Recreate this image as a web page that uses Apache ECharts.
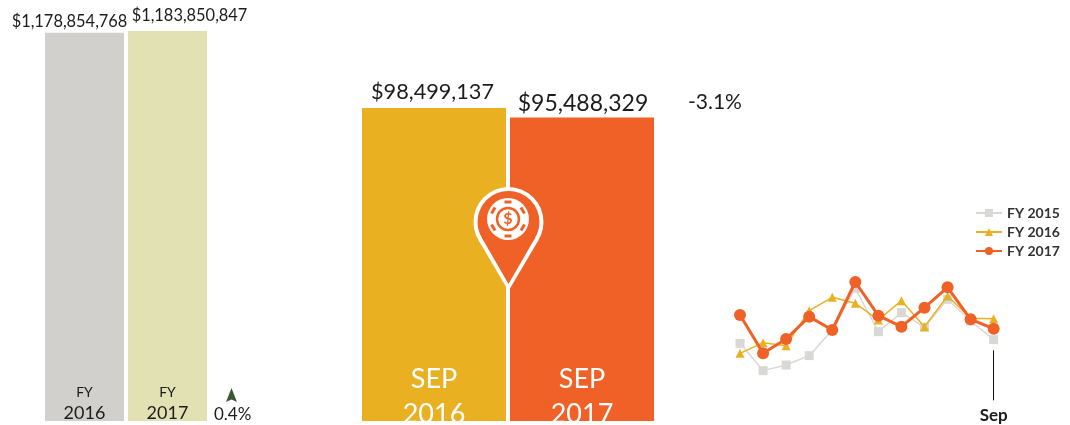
<!DOCTYPE html>
<html>
<head>
<meta charset="utf-8">
<title>Monthly revenue</title>
<style>
html,body{margin:0;padding:0;background:#fff}
#chart{width:1070px;height:425px}
</style>
<script src="https://cdn.jsdelivr.net/npm/echarts@6/dist/echarts.min.js"></script>
</head>
<body>
<div id="chart"></div>
<script>
// full year totals
var fyCategories = ['FY\n2016', 'FY\n2017'];
var fyValues = [1178854768, 1183850847];
var fyChange = '0.4%';

// September totals
var sepCategories = ['SEP\n2016', 'SEP\n2017'];
var sepValues = [98499137, 95488329];
var sepChange = '-3.1%';

// monthly trend, in millions
var months = ['Oct', 'Nov', 'Dec', 'Jan', 'Feb', 'Mar', 'Apr', 'May', 'Jun', 'Jul', 'Aug', 'Sep'];
var fy2015 = [91.1, 82.9, 84.6, 87.4, 95.1, 107.6, 94.6, 100.3, 95.9, 104.3, 97.8, 92.2];
var fy2016 = [88.1, 91.3, 90.4, 100.9, 104.9, 103.1, 98.1, 103.9, 96.1, 105.3, 98.6, 98.5];
var fy2017 = [99.6, 88.1, 92.4, 99.1, 95.1, 109.5, 99.4, 96.1, 101.8, 107.9, 98.3, 95.5];

var FONT = 'Lato, "Open Sans", sans-serif';
var GREY = '#D1D0CC', OLIVE = '#E2E1B4', AMBER = '#E9B121', ORANGE = '#EF6126', INK = '#1c1c1c';

function money(v) {
    return '$' + v.toLocaleString('en-US');
}

function barItems(values, colors, offsets, sizes) {
    return values.map(function (v, i) {
        return {
            value: v,
            itemStyle: { color: colors[i] },
            label: {
                show: true,
                position: 'top',
                distance: 0,
                offset: offsets[i],
                formatter: money(v),
                fontFamily: FONT,
                fontSize: sizes[i],
                color: INK
            }
        };
    });
}

function isSep(index) {
    return index === months.length - 1;
}

function lineSeries(name, data, color, symbol, symbolSize, width, z) {
    return {
        name: name,
        type: 'line',
        xAxisIndex: 2,
        yAxisIndex: 2,
        data: data,
        symbol: symbol,
        symbolSize: symbolSize,
        z: z,
        lineStyle: { color: color, width: width },
        itemStyle: { color: color }
    };
}

// chip on the pin: notches around the rim
function chipNotches(cx, cy) {
    var list = [];
    for (var i = 0; i < 6; i++) {
        var a = i * Math.PI / 3;
        list.push({
            type: 'rect',
            x: cx + Math.sin(a) * 17,
            y: cy - Math.cos(a) * 17,
            rotation: -a,
            shape: { x: -3.5, y: -1.5, width: 7, height: 3 },
            style: { fill: ORANGE },
            z: 103
        });
    }
    return list;
}

var chart = echarts.init(document.getElementById('chart'));

var option = {
    animation: false,
    backgroundColor: '#fff',
    textStyle: { fontFamily: FONT },
    grid: [
        { left: 43, top: 31, width: 166, height: 390, outerBoundsMode: 'none' },
        { left: 360, top: 108, width: 296, height: 313, outerBoundsMode: 'none' },
        { left: 728.5, top: 267, width: 276.7, height: 133.3, outerBoundsMode: 'none' }
    ],
    legend: {
        data: ['FY 2015', 'FY 2016', 'FY 2017'],
        orient: 'vertical',
        left: 970,
        top: 201,
        itemWidth: 26,
        itemHeight: 10,
        itemGap: 5,
        textStyle: { fontFamily: FONT, fontSize: 14, fontWeight: 'bold', color: '#333' }
    },
    xAxis: [
        {
            gridIndex: 0,
            type: 'category',
            z: 10,
            data: fyCategories,
            axisLine: { show: false },
            axisTick: { show: false },
            axisLabel: {
                inside: true,
                margin: -3,
                formatter: function (v) {
                    var p = v.split('\n');
                    return '{a|' + p[0] + '}\n{b|' + p[1] + '}';
                },
                rich: {
                    a: { fontFamily: FONT, fontSize: 14, color: INK, lineHeight: 20 },
                    b: { fontFamily: FONT, fontSize: 18, color: INK, lineHeight: 22 }
                }
            }
        },
        {
            gridIndex: 1,
            type: 'category',
            z: 10,
            data: sepCategories,
            axisLine: { show: false },
            axisTick: { show: false },
            axisLabel: {
                inside: true,
                margin: -11,
                formatter: function (v) {
                    var p = v.split('\n');
                    return '{a|' + p[0] + '}\n{a|' + p[1] + '}';
                },
                rich: {
                    a: { fontFamily: FONT, fontSize: 27, color: '#fff', lineHeight: 35 }
                }
            }
        },
        {
            gridIndex: 2,
            type: 'category',
            data: months,
            axisLine: { show: false },
            axisTick: {
                show: true,
                alignWithLabel: true,
                inside: true,
                length: 50,
                interval: function (i) { return isSep(i); },
                lineStyle: { color: '#111', width: 1 }
            },
            axisLabel: {
                interval: function (i) { return isSep(i); },
                margin: 7,
                fontFamily: FONT,
                fontSize: 17,
                fontWeight: 'bold',
                color: INK
            }
        }
    ],
    yAxis: [
        { gridIndex: 0, type: 'value', min: 0, max: 1183850847, show: false },
        { gridIndex: 1, type: 'value', min: 0, max: 98499137, show: false },
        { gridIndex: 2, type: 'value', min: 74, max: 114, show: false }
    ],
    series: [
        {
            type: 'bar',
            xAxisIndex: 0,
            yAxisIndex: 0,
            barWidth: 79,
            data: barItems(fyValues, [GREY, OLIVE], [[-15, -3], [22, -7]], [16.4, 16.4])
        },
        {
            type: 'bar',
            xAxisIndex: 1,
            yAxisIndex: 1,
            barWidth: 144,
            data: barItems(sepValues, [AMBER, ORANGE], [[-1.5, -5], [1, -2]], [21.7, 23])
        },
        lineSeries('FY 2015', fy2015, '#D9D8D4', 'rect', 9, 1.5, 3),
        lineSeries('FY 2016', fy2016, AMBER, 'triangle', 9, 1.5, 4),
        lineSeries('FY 2017', fy2017, ORANGE, 'circle', 12, 3, 5)
    ],
    graphic: [
        {
            type: 'text',
            x: 688,
            y: 92,
            style: { text: sepChange, fontFamily: FONT, fontSize: 21, fill: INK }
        },
        {
            type: 'text',
            x: 214,
            y: 406,
            style: { text: fyChange, fontFamily: FONT, fontSize: 17, fill: INK }
        },
        {
            type: 'polygon',
            shape: { points: [[231.5, 388], [237, 402], [231.5, 399.5], [226, 402]] },
            style: { fill: '#3C5A30' }
        },
        // pin: white shape first, orange one on top leaves the outline
        { type: 'circle', z: 100, shape: { cx: 508.5, cy: 222, r: 35 }, style: { fill: '#fff' } },
        { type: 'polygon', z: 100, shape: { points: [[478.3, 239.7], [538.7, 239.7], [508.5, 291]] }, style: { fill: '#fff' } },
        { type: 'circle', z: 101, shape: { cx: 508.5, cy: 222, r: 31 }, style: { fill: ORANGE } },
        { type: 'polygon', z: 101, shape: { points: [[481.7, 237.5], [535.3, 237.5], [508.5, 284]] }, style: { fill: ORANGE } },
        { type: 'circle', z: 102, shape: { cx: 508, cy: 219, r: 21 }, style: { fill: '#fff' } },
        { type: 'circle', z: 104, shape: { cx: 508, cy: 219, r: 11 }, style: { fill: '#fff', stroke: ORANGE, lineWidth: 2.5 } },
        {
            type: 'text',
            z: 105,
            x: 508,
            y: 219,
            style: { text: '$', fontFamily: FONT, fontSize: 16, fontWeight: 'bold', fill: ORANGE, align: 'center', verticalAlign: 'middle' }
        }
    ].concat(chipNotches(508, 219))
};

chart.setOption(option);
</script>
</body>
</html>
